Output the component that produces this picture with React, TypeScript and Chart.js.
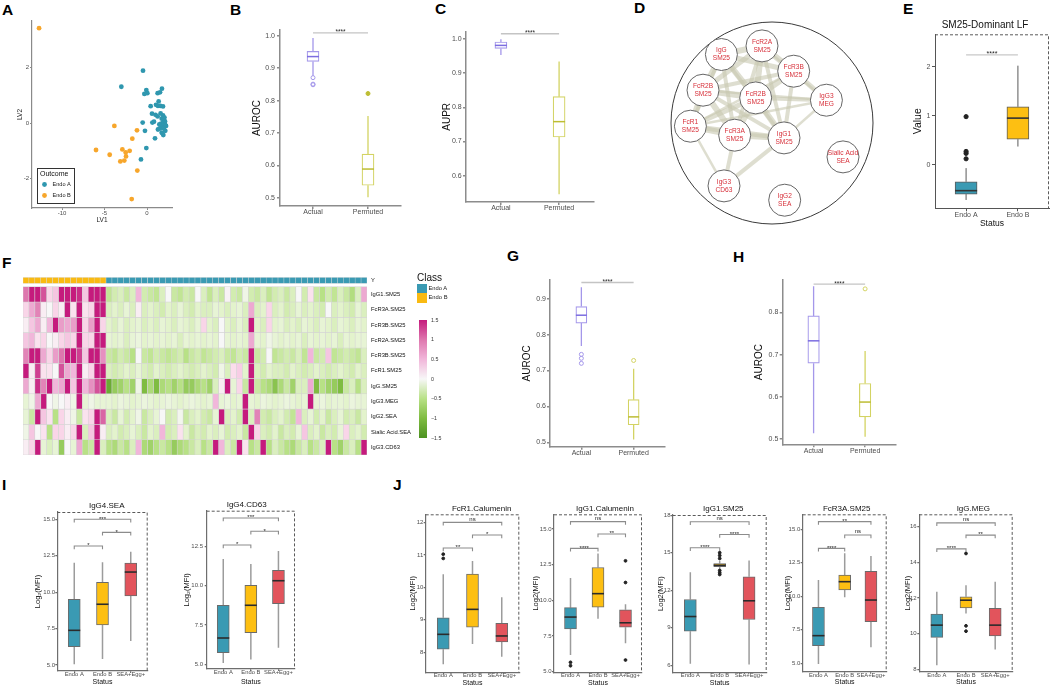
import React, { useEffect, useRef } from 'react';
import { Chart, registerables } from 'chart.js';

Chart.register(...registerables);

const FONT = "'Liberation Sans', Arial, Helvetica, sans-serif";

/* ===================== DATA ===================== */
// Panel A – PLS-DA scores
const aGroups = ['Endo A', 'Endo B'];
const aEndoA_LV1 = [-0.47, -3.02, -0.08, 0.04, -0.31, 1.76, 1.25, 1.53, 1.37, 0.43, 1.06, 1.29, 1.57, 1.88, 0.59, 1.25, 1.88, 1.73, 2.0, 2.12, 1.88, 1.65, 2.12, 1.84, 2.24, 1.69, 1.96, 1.49, 1.29, 1.73, 1.92, 1.8, -0.51, 0.63, 0.82, -0.24, 0.94, -0.08, -0.71, 2.05, 1.6, 1.45, 2.15, 1.0];
const aEndoA_LV2 = [1.89, 1.31, 1.19, 1.08, 1.05, 1.24, 1.08, 1.11, 0.78, 0.61, 0.66, 0.62, 0.62, 0.6, 0.34, 0.24, 0.28, 0.16, 0.1, 0.06, 0.01, -0.02, -0.05, -0.1, -0.1, -0.16, -0.19, -0.2, -0.23, -0.34, -0.43, -0.37, 0.02, 0.02, 0.05, -0.28, -0.55, -0.9, -1.31, 0.2, 0.35, -0.05, -0.28, 0.3];
const aEndoB_LV1 = [-12.7, -3.84, -1.18, -1.73, -6.0, -4.39, -2.9, -2.51, -2.04, -2.47, -3.14, -2.67, -1.14, -1.8];
const aEndoB_LV2 = [3.42, -0.1, -0.26, -0.56, -0.97, -1.14, -0.95, -1.06, -1.0, -1.2, -1.38, -1.35, -1.71, -2.74];
const aXTicks = [-10, -5, 0];
const aYTicks = [-2, 0, 2];

// Panels B, C, G, H – model performance (min, q1, median, q3, max)
const permCats = ['Actual', 'Permuted'];
const bStats = [[0.877, 0.921, 0.936, 0.952, 0.993], [0.502, 0.539, 0.589, 0.635, 0.753]];
const bOutliers = [[0.871, 0.849, 0.851], [0.822]];
const bTicks = [0.5, 0.6, 0.7, 0.8, 0.9, 1.0];
const bSigY = [1.009];
const cStats = [[0.953, 0.972, 0.981, 0.991, 0.999], [0.546, 0.713, 0.758, 0.831, 0.934]];
const cOutliers = [[], []];
const cTicks = [0.6, 0.7, 0.8, 0.9, 1.0];
const cSigY = [1.015];
const gStats = [[0.768, 0.832, 0.854, 0.878, 0.932], [0.508, 0.549, 0.571, 0.619, 0.705]];
const gOutliers = [[0.745, 0.734, 0.72], [0.728]];
const gTicks = [0.5, 0.6, 0.7, 0.8, 0.9];
const gSigY = [0.945];
const hStats = [[0.514, 0.68, 0.733, 0.792, 0.862], [0.506, 0.553, 0.588, 0.632, 0.709]];
const hOutliers = [[], [0.856]];
const hTicks = [0.5, 0.6, 0.7, 0.8];
const hSigY = [0.867];

// Panel D – network
const dNodeLabels = [['IgG', 'SM25'], ['FcR2A', 'SM25'], ['FcR3B', 'SM25'], ['FcR2B', 'SM25'], ['FcR2B', 'SM25'], ['IgG3', 'MEG'], ['FcR1', 'SM25'], ['FcR3A', 'SM25'], ['IgG1', 'SM25'], ['Sialic Acid', 'SEA'], ['IgG3', 'CD63'], ['IgG2', 'SEA']];
const dNodeX = [-0.506, -0.1, 0.217, -0.69, -0.163, 0.544, -0.816, -0.373, 0.12, 0.71, -0.48, 0.127];
const dNodeY = [0.685, 0.771, 0.518, 0.328, 0.251, 0.228, -0.032, -0.122, -0.149, -0.339, -0.629, -0.772];
const dEdgeFrom = [0, 0, 0, 0, 0, 0, 0, 1, 1, 1, 1, 1, 1, 2, 2, 2, 2, 2, 3, 3, 3, 3, 3, 4, 4, 4, 4, 5, 5, 6, 6, 6, 7, 7, 8];
const dEdgeTo = [1, 2, 3, 4, 6, 7, 8, 2, 3, 4, 7, 8, 5, 4, 5, 8, 3, 6, 4, 6, 7, 8, 5, 6, 7, 8, 5, 8, 6, 7, 8, 10, 8, 10, 10];
const dEdgeW = [6, 5, 6, 6, 4, 4, 3.5, 6, 5, 6, 4, 4, 2.5, 6, 5, 4, 4, 2.5, 6, 6, 6, 4, 2.5, 5, 6, 6, 4, 2.5, 2.5, 6, 5, 2.5, 6, 4, 4];

// Panel E
const eCats = ['Endo A', 'Endo B'];
const eStats = [[-0.72, -0.6, -0.53, -0.35, -0.07], [0.37, 0.52, 0.95, 1.18, 2.02]];
const eOutliers = [[0.12, 0.23, 0.27, 0.98], []];
const eTicks = [0, 1, 2];
const eSigY = [2.24];

// Panel F – heatmap
const fRowNames = ['IgG1.SM25', 'FcR3A.SM25', 'FcR3B.SM25', 'FcR2A.SM25', 'FcR3B.SM25', 'FcR1.SM25', 'IgG.SM25', 'IgG3.MEG', 'IgG2.SEA', 'Sialic Acid.SEA', 'IgG3.CD63'];
const fNumEndoB = 14;
const fNumEndoA = 44;
const fRow1 = [1.0, 1.5, 1.5, 1.2, 0.3, 0.4, 1.5, 1.5, 1.5, 1.4, 0.4, 1.5, 1.5, 1.5,
  -0.45, -0.35, -0.3, -0.4, -0.3, 0.5, -0.35, -0.4, -0.45, -0.3, 0.0, -0.4, -0.45, -0.35, -0.4, 0.0, -0.3, -0.45, -0.3, -0.4, 0.05, -0.35, -0.4, -0.1, -0.35, -0.4, -0.3, -0.45, -0.35, -0.3, -0.4, -0.3, 0.0, -0.35, 0.2, -0.4, -0.5, -0.35, -0.45, -0.3, -0.4, -0.55, -0.3, 0.6];
const fRow2 = [0.3, 0.6, 0.9, 0.1, 0.0, 0.3, 0.1, 1.5, 0.2, 1.5, 0.2, 0.3, 1.5, 1.5,
  -0.3, -0.25, -0.3, -0.2, -0.3, 0.1, -0.3, -0.25, -0.3, -0.35, -0.25, -0.3, -0.2, -0.3, -0.35, -0.25, -0.3, -0.3, -0.2, -0.25, -0.3, -0.25, -0.2, -0.3, 0.6, -0.3, -0.25, 0.3, -0.3, -0.25, -0.35, -0.3, -0.2, -0.3, -0.25, -0.3, -0.35, 0.0, -0.3, -0.25, -0.3, -0.35, -0.2, -0.3];
const fRow3 = [0.1, 0.4, 0.6, 0.1, 0.5, 1.5, 0.7, 0.6, 0.7, 1.5, 0.3, 0.7, 1.5, 0.3,
  -0.25, -0.3, -0.2, -0.3, -0.25, -0.2, -0.3, -0.25, -0.3, -0.2, -0.25, -0.3, -0.2, -0.25, -0.3, -0.2, 0.3, -0.25, -0.3, 0.0, -0.25, -0.3, -0.2, -0.3, 1.5, -0.25, -0.3, 0.3, -0.25, -0.2, -0.3, -0.25, -0.3, -0.2, -0.25, -0.3, -0.2, -0.25, -0.3, -0.2, -0.25, -0.3, -0.2, -0.25];
const fRow4 = [0.4, 0.5, 0.2, 0.3, 0.0, 0.1, 0.3, 0.4, 0.3, 1.5, 0.3, 0.3, 1.5, 1.5,
  -0.2, -0.25, -0.2, -0.3, -0.2, -0.15, -0.25, -0.2, -0.25, -0.2, -0.25, -0.2, -0.3, -0.2, -0.25, -0.2, -0.25, -0.2, -0.25, 0.0, -0.2, -0.25, -0.2, -0.25, 0.6, -0.2, -0.25, -0.1, -0.2, -0.25, -0.2, -0.25, -0.2, -0.3, -0.2, -0.25, -0.2, -0.25, -0.2, -0.3, -0.2, -0.25, -0.2, -0.2];
const fRow5 = [0.9, 1.5, 1.5, 0.6, 0.3, 0.7, 1.0, 1.5, 1.5, 1.3, 0.4, 1.5, 1.5, 0.8,
  -0.4, -0.45, -0.35, -0.4, -0.5, 0.0, -0.4, -0.45, -0.35, -0.4, -0.45, -0.4, -0.35, -0.5, -0.4, -0.35, -0.45, -0.4, -0.35, -0.3, -0.4, -0.45, -0.35, -0.4, 1.5, -0.4, -0.35, 0.0, -0.45, -0.4, -0.35, -0.4, -0.3, -0.45, 0.5, -0.4, -0.35, 0.4, -0.45, -0.4, -0.35, -0.4, -0.45, -0.3];
const fRow6 = [1.5, 0.1, 1.3, 0.2, 0.2, 0.0, 1.2, 0.6, 0.5, 1.5, 0.1, 0.3, 1.5, 1.5,
  -0.3, -0.35, -0.3, -0.25, -0.3, -0.2, -0.3, -0.35, -0.25, -0.3, -0.35, -0.3, -0.25, -0.3, -0.35, -0.3, -0.25, -0.3, -0.35, -0.1, -0.3, 0.25, 0.35, -0.25, 1.5, -0.3, -0.35, -0.25, -0.3, -0.3, -0.35, -0.25, -0.3, -0.35, -0.3, -0.25, -0.3, -0.35, -0.3, -0.25, -0.3, -0.35, -0.25, -0.3];
const fRow7 = [0.6, 0.1, 1.4, 0.9, 1.5, 0.5, 0.6, 1.5, 0.4, 1.5, 0.5, 0.8, 1.2, 1.5,
  -1.2, -0.8, -0.7, -0.5, -0.7, -0.1, -1.0, -0.6, -1.0, -0.6, -0.5, -0.7, -0.5, -0.8, -0.8, -0.6, -0.5, -0.7, -0.3, 0.1, 1.5, -0.2, 0.3, -0.4, 1.5, -0.4, -0.5, -0.6, -0.9, -0.6, -0.4, -0.7, -0.3, -0.3, 0.6, -1.0, -0.5, -0.7, -0.8, -1.0, -0.4, -0.3, -0.5, -0.3];
const fRow8 = [-0.2, -0.1, 0.6, 1.5, 0.0, -0.1, 0.0, 0.1, -0.1, 1.5, -0.2, -0.1, -0.2, -0.2,
  -0.2, -0.25, -0.15, -0.2, -0.25, -0.2, -0.15, -0.2, -0.25, -0.2, -0.15, -0.2, -0.25, -0.2, -0.15, -0.2, -0.25, -0.2, 0.5, -0.2, -0.15, -0.25, -0.2, 1.5, -0.2, -0.25, -0.15, -0.2, -0.25, -0.2, -0.15, -0.2, -0.25, -0.2, 1.5, -0.2, -0.15, -0.25, -0.2, -0.2, -0.25, -0.15, -0.2, -0.2];
const fRow9 = [-0.2, -0.4, 1.5, 0.4, 0.2, -0.5, 0.3, 0.1, -0.1, -0.4, 0.2, 0.3, 1.5, 1.1,
  -0.3, -0.4, -0.2, -0.35, -0.25, -0.1, -0.4, -0.3, -0.2, 0.0, -0.35, -0.3, -0.05, -0.4, -0.3, -0.25, -0.35, -0.4, -0.2, 1.5, -0.3, -0.25, -0.35, 1.5, -0.3, 0.9, -0.35, -0.4, -0.3, -0.25, -0.35, -0.45, 0.5, -0.3, -0.2, -0.35, -0.25, -0.4, -0.3, -0.2, -0.35, -0.3, -0.4, -0.25];
const fRow10 = [-0.1, 0.4, 0.0, 0.2, -0.5, 0.3, 0.3, 0.1, 0.3, 1.5, -0.3, 0.4, 1.5, 0.1,
  -0.3, -0.25, -0.35, -0.3, -0.2, -0.3, -0.4, -0.25, -0.3, 0.5, -0.35, -0.3, 0.2, -0.25, -0.4, -0.3, -0.35, -0.25, -0.3, -0.2, -0.35, -0.3, -0.25, -0.4, 1.5, 0.3, -0.3, -0.35, -0.25, -0.4, -0.3, -0.35, -0.2, 0.4, -0.3, -0.25, -0.4, -0.3, -0.35, -0.2, 0.3, -0.3, -0.25, -0.35];
const fRow11 = [0.1, 0.3, 1.5, -0.2, -0.3, -0.2, -0.8, 0.0, -0.2, 0.6, -0.5, -0.4, 1.5, -0.3,
  -0.5, -0.6, -0.4, -0.5, -0.3, 0.5, -0.6, -0.7, -0.5, -0.4, -0.5, -0.8, -0.6, -0.5, -0.4, -0.3, -0.5, -0.4, 1.5, 0.5, -0.3, -0.4, 1.5, 0.2, -0.5, -0.4, 1.5, -0.5, -0.3, -0.4, -0.5, -0.6, -0.4, -0.3, -0.5, -0.4, -0.3, 1.5, -0.5, -0.7, -0.4, -0.3, -0.5, 1.5];
const fValues = [fRow1, fRow2, fRow3, fRow4, fRow5, fRow6, fRow7, fRow8, fRow9, fRow10, fRow11];
const fColorTicks = [1.5, 1, 0.5, 0, -0.5, -1, -1.5];

// Panels I and J – Log2(MFI) by status (min, q1, median, q3, max)
const statusCats = ['Endo A', 'Endo B', 'SEA+Egg+'];
const sigPairs = [[0, 1], [1, 2], [0, 2]];
const iSeaStats = [[5.05, 6.26, 7.38, 9.51, 12.02], [5.41, 7.75, 9.17, 10.68, 12.06], [6.65, 9.74, 11.38, 12.0, 12.78]];
const iSeaSigY = [13.17, 14.1, 15.0];
const iSeaSigLab = ['*', '*', '***'];
const iCd63Stats = [[5.08, 5.74, 6.67, 8.75, 11.69], [5.31, 7.01, 8.75, 10.02, 11.37], [6.05, 8.85, 10.31, 10.97, 12.2]];
const iCd63SigY = [12.58, 13.45, 14.3];
const iCd63SigLab = ['*', '*', '***'];
const jFcr1CalStats = [[7.63, 8.09, 8.55, 9.06, 10.4], [8.25, 8.77, 9.32, 10.41, 10.81], [7.86, 8.32, 8.5, 8.89, 9.69]];
const jFcr1CalOut = [[11.02, 10.89], [], []];
const jFcr1CalSigY = [11.21, 11.61, 12.0];
const jFcr1CalSigLab = ['**', '*', 'ns'];
const jIgg1CalStats = [[6.18, 8.0, 8.83, 9.49, 11.57], [8.71, 9.53, 10.47, 12.3, 13.29], [6.99, 8.12, 8.43, 9.34, 9.72]];
const jIgg1CalOut = [[5.66, 5.42], [], [12.77, 11.25, 5.82]];
const jIgg1CalSigY = [13.64, 14.65, 15.52];
const jIgg1CalSigLab = ['****', '**', 'ns'];
const jIgg1SmStats = [[6.12, 8.73, 9.9, 11.26, 13.45], [13.7, 13.88, 14.0, 14.14, 14.35], [6.06, 9.66, 11.16, 13.08, 14.38]];
const jIgg1SmOut = [[], [15.0, 14.78, 14.54, 13.58, 13.4, 13.26], []];
const jIgg1SmSigY = [15.4, 16.46, 17.48];
const jIgg1SmSigLab = ['****', '****', 'ns'];
const jFcr3aStats = [[4.95, 6.31, 7.06, 9.18, 11.22], [9.93, 10.47, 11.09, 11.59, 13.21], [6.19, 8.1, 9.72, 11.86, 13.0]];
const jFcr3aSigY = [13.58, 14.57, 15.57];
const jFcr3aSigLab = ['****', 'ns', '**'];
const jIggMegStats = [[8.23, 9.79, 10.48, 11.1, 12.35], [11.13, 11.45, 11.88, 12.07, 12.72], [9.11, 9.88, 10.48, 11.43, 12.91]];
const jIggMegOut = [[], [14.5, 10.44, 10.14], []];
const jIggMegSigY = [14.76, 15.53, 16.22];
const jIggMegSigLab = ['****', '**', 'ns'];
const none3 = [[], [], []];

/* ===================== STYLE ===================== */
const TEAL = '#3A9AB3';
const GOLD = '#FDBF12';
const RED = '#E2545C';
const PURPLE = '#A497EA';
const PURPLE_D = '#7C6DE0';
const OLIVE = '#D3D363';
const OLIVE_D = '#BDBD33';
const PT_TEAL = '#2F97AF';
const PT_ORANGE = '#F7A62B';

const fStops: [number, string][] = [[-1.5, '#4D9221'], [-1, '#7FBC41'], [-0.5, '#B8E186'], [-0.25, '#E3F3CC'], [0, '#F7F7F7'], [0.25, '#FBDDEC'], [0.5, '#F1B6DA'], [1, '#DE77AE'], [1.5, '#C51B7D']];
function hex(h: string) { return [parseInt(h.slice(1, 3), 16), parseInt(h.slice(3, 5), 16), parseInt(h.slice(5, 7), 16)]; }
function piyg(v: number) {
  const x = Math.max(-1.5, Math.min(1.5, v));
  for (let i = 0; i < fStops.length - 1; i++) {
    const [a, ca] = fStops[i];
    const [b, cb] = fStops[i + 1];
    if (x >= a && x <= b) {
      const f = (x - a) / (b - a);
      const A = hex(ca), B = hex(cb);
      return `rgb(${Math.round(A[0] + (B[0] - A[0]) * f)},${Math.round(A[1] + (B[1] - A[1]) * f)},${Math.round(A[2] + (B[2] - A[2]) * f)})`;
    }
  }
  return '#F7F7F7';
}

/* ===================== BOX PANEL ===================== */
function BoxPanel({ c }: { c: any }) {
  const ref = useRef<HTMLCanvasElement | null>(null);
  const [l, t, r, b] = c.area;
  const tl = c.tl ?? 3;
  const yLh = c.yTitleSize * 1.2;
  const left = Math.floor(c.yTitleX - yLh / 2 - 1);
  const top = Math.floor(Math.min(t - 8, c.title ? c.titleY - c.titleSize * 0.8 : t - 8));
  const xLh = (c.xTitleSize || 8) * 1.2;
  const bottomF = c.xTitle ? c.xTitleY + xLh / 2 + 1 : c.xLabelTop + c.xTickSize * 1.3 + 1;
  const width = Math.ceil(r + 4 - left);
  const height = Math.ceil(bottomF - top);

  useEffect(() => {
    const n = c.cats.length;
    const yAxisW = l - left;
    const xAxisH = bottomF - b;
    const brackets = c.sigY.map((y: number, k: number) => ({ a: c.pairs[k][0], b: c.pairs[k][1], y, label: c.sigLab[k] }));
    const plugin = {
      id: 'boxExtras',
      beforeDatasetsDraw(chart: any) {
        const { ctx, scales } = chart;
        const xs = scales.x, ys = scales.y;
        ctx.save();
        c.stats.forEach((s: number[], i: number) => {
          const px = xs.getPixelForValue(i + 1);
          ctx.strokeStyle = c.whisker[i];
          ctx.lineWidth = c.whiskerW;
          ctx.beginPath();
          ctx.moveTo(px, ys.getPixelForValue(s[4]));
          ctx.lineTo(px, ys.getPixelForValue(s[3]));
          ctx.moveTo(px, ys.getPixelForValue(s[1]));
          ctx.lineTo(px, ys.getPixelForValue(s[0]));
          ctx.stroke();
        });
        ctx.restore();
      },
      afterDatasetsDraw(chart: any) {
        const { ctx, scales, chartArea } = chart;
        const xs = scales.x, ys = scales.y;
        ctx.save();
        c.stats.forEach((s: number[], i: number) => {
          const px = xs.getPixelForValue(i + 1);
          const py = ys.getPixelForValue(s[2]);
          ctx.strokeStyle = c.median[i];
          ctx.lineWidth = c.medianW;
          ctx.beginPath();
          ctx.moveTo(px - c.boxW / 2, py);
          ctx.lineTo(px + c.boxW / 2, py);
          ctx.stroke();
        });
        brackets.forEach((br: any) => {
          const x1 = xs.getPixelForValue(br.a + 1), x2 = xs.getPixelForValue(br.b + 1);
          const y = ys.getPixelForValue(br.y);
          ctx.strokeStyle = c.bracketColor;
          ctx.lineWidth = c.bracketW;
          ctx.beginPath();
          if (c.bracketTicks) {
            ctx.moveTo(x1, y + 3.2); ctx.lineTo(x1, y); ctx.lineTo(x2, y); ctx.lineTo(x2, y + 3.2);
          } else {
            ctx.moveTo(x1, y); ctx.lineTo(x2, y);
          }
          ctx.stroke();
          ctx.fillStyle = '#222';
          ctx.font = `${c.starSize}px ${FONT}`;
          ctx.textAlign = 'center';
          ctx.textBaseline = 'alphabetic';
          ctx.fillText(br.label, (x1 + x2) / 2, y - (br.label === 'ns' ? 1.6 : 0.2) + (br.label === 'ns' ? 0 : c.starSize * 0.25));
        });
        if (c.dashed) {
          ctx.setLineDash([3, 2]);
          ctx.strokeStyle = '#5a5a5a';
          ctx.lineWidth = 1;
          ctx.beginPath();
          ctx.moveTo(chartArea.left, chartArea.top + 0.5);
          ctx.lineTo(chartArea.right - 0.5, chartArea.top + 0.5);
          ctx.lineTo(chartArea.right - 0.5, chartArea.bottom);
          ctx.stroke();
          ctx.setLineDash([]);
        }
        if (c.title) {
          ctx.fillStyle = '#111';
          ctx.font = `${c.titleSize}px ${FONT}`;
          ctx.textAlign = 'center';
          ctx.textBaseline = 'middle';
          ctx.fillText(c.title, c.titleX - left, c.titleY - top);
        }
        ctx.restore();
      },
    };
    const outData: any[] = [];
    const outFill: string[] = [];
    const outStroke: string[] = [];
    c.outliers.forEach((o: number[], i: number) => o.forEach((v) => {
      outData.push({ x: i + 1, y: v });
      outFill.push(c.outFill[i]);
      outStroke.push(c.outStroke[i]);
    }));
    const tickFont = { family: FONT, size: c.tickSize };
    const chart = new Chart(ref.current as HTMLCanvasElement, {
      type: 'bar',
      data: {
        datasets: [
          {
            type: 'bar',
            data: c.stats.map((s: number[], i: number) => ({ x: i + 1, y: [s[1], s[3]] })),
            backgroundColor: c.fill,
            borderColor: c.stroke,
            borderWidth: c.strokeW,
            borderSkipped: false,
            barThickness: c.boxW,
            order: 2,
          },
          {
            type: 'scatter',
            data: outData,
            pointBackgroundColor: outFill,
            pointBorderColor: outStroke,
            pointBorderWidth: 1,
            pointRadius: c.outR,
            order: 1,
          },
        ],
      },
      options: {
        animation: false,
        responsive: false,
        maintainAspectRatio: false,
        events: [],
        layout: { autoPadding: false, padding: { left: 0, top: t - top, right: width - (r - left), bottom: height - (bottomF - top) } },
        plugins: { legend: { display: false }, tooltip: { enabled: false } },
        scales: {
          x: {
            type: 'linear', min: 0.4, max: n + 0.6, offset: false,
            afterBuildTicks: (s: any) => { s.ticks = c.cats.map((_: string, i: number) => ({ value: i + 1 })); },
            afterFit: (s: any) => { s.height = xAxisH; },
            ticks: {
              callback: (v: any) => c.cats[Math.round(+v) - 1] ?? '',
              font: { family: FONT, size: c.xTickSize }, color: '#4d4d4d',
              padding: c.xLabelTop - 0.23 * c.xTickSize - b - tl, maxRotation: 0, autoSkip: false,
            },
            grid: { drawOnChartArea: false, offset: false, tickLength: tl, color: c.axisColor, lineWidth: c.axisW },
            border: { display: true, color: c.axisColor, width: c.axisW },
            title: c.xTitle
              ? { display: true, text: c.xTitle, font: { family: FONT, size: c.xTitleSize }, color: '#111', padding: { top: 0, bottom: 1 } }
              : { display: false },
          },
          y: {
            type: 'linear', min: c.yMin, max: c.yMax, beginAtZero: false,
            afterBuildTicks: (s: any) => { s.ticks = c.yTicks.map((v: number) => ({ value: v })); },
            afterFit: (s: any) => { s.width = yAxisW; },
            ticks: {
              callback: (v: any) => (+v).toFixed(c.yDec),
              font: tickFont, color: '#4d4d4d',
              padding: Math.max(0, l - tl - c.yLabelRight),
            },
            grid: { drawOnChartArea: false, tickLength: tl, color: c.axisColor, lineWidth: c.axisW },
            border: { display: true, color: c.axisColor, width: c.axisW },
            title: {
              display: true, text: c.yTitle, font: { family: FONT, size: c.yTitleSize, lineHeight: 1.2 }, color: '#111',
              padding: { top: c.yTitleX - left - yLh / 2, bottom: 0 },
            },
          },
        },
      },
      plugins: [plugin],
    } as any);
    return () => chart.destroy();
  }, []);
  return <canvas ref={ref} width={width} height={height} style={{ position: 'absolute', left, top, width, height }} />;
}

/* ===================== PANEL A ===================== */
function PanelA() {
  const ref = useRef<HTMLCanvasElement | null>(null);
  const left = 10, top = 13, width = 166, height = 212;
  const area = [32, 21, 172, 208];
  useEffect(() => {
    const legendPlugin = {
      id: 'aLegend',
      afterDraw(chart: any) {
        const ctx = chart.ctx;
        ctx.save();
        const ox = -left, oy = -top;
        ctx.strokeStyle = '#333';
        ctx.lineWidth = 1;
        ctx.strokeRect(37.5 + ox, 168.5 + oy, 37, 35);
        ctx.fillStyle = '#111';
        ctx.font = `7px ${FONT}`;
        ctx.textBaseline = 'middle';
        ctx.textAlign = 'left';
        ctx.fillText('Outcome', 40 + ox, 174 + oy);
        const cols = [PT_TEAL, PT_ORANGE];
        aGroups.forEach((g, i) => {
          const cy = 184.5 + i * 11 + oy;
          ctx.fillStyle = cols[i];
          ctx.beginPath();
          ctx.arc(44.5 + ox, cy, 2.4, 0, Math.PI * 2);
          ctx.fill();
          ctx.fillStyle = '#222';
          ctx.font = `5.6px ${FONT}`;
          ctx.fillText(g, 52.5 + ox, cy);
        });
        ctx.restore();
      },
    };
    const axis = '#8a8a8a';
    const chart = new Chart(ref.current as HTMLCanvasElement, {
      type: 'scatter',
      data: {
        datasets: [
          { label: aGroups[0], data: aEndoA_LV1.map((x, i) => ({ x, y: aEndoA_LV2[i] })), pointBackgroundColor: PT_TEAL, pointBorderWidth: 0, pointRadius: 2.4 },
          { label: aGroups[1], data: aEndoB_LV1.map((x, i) => ({ x, y: aEndoB_LV2[i] })), pointBackgroundColor: PT_ORANGE, pointBorderWidth: 0, pointRadius: 2.4 },
        ],
      },
      options: {
        animation: false, responsive: false, maintainAspectRatio: false, events: [],
        layout: { autoPadding: false, padding: { left: 0, top: area[1] - top, right: width - (area[2] - left), bottom: height - (224.9 - top) } },
        plugins: { legend: { display: false }, tooltip: { enabled: false } },
        scales: {
          x: {
            type: 'linear', min: -13.53, max: 2.94,
            afterBuildTicks: (s: any) => { s.ticks = aXTicks.map((v) => ({ value: v })); },
            afterFit: (s: any) => { s.height = 224.9 - area[3]; },
            ticks: { font: { family: FONT, size: 6 }, color: '#4d4d4d', padding: 0, maxRotation: 0 },
            grid: { drawOnChartArea: false, tickLength: 2, color: axis, lineWidth: 1 },
            border: { display: true, color: axis, width: 1.2 },
            title: { display: true, text: 'LV1', font: { family: FONT, size: 6.5 }, color: '#222', padding: { top: 0, bottom: 1 } },
          },
          y: {
            type: 'linear', min: -3.06, max: 3.68,
            afterBuildTicks: (s: any) => { s.ticks = aYTicks.map((v) => ({ value: v })); },
            afterFit: (s: any) => { s.width = area[0] - left; },
            ticks: { font: { family: FONT, size: 6 }, color: '#4d4d4d', padding: 1 },
            grid: { drawOnChartArea: false, tickLength: 2, color: axis, lineWidth: 1 },
            border: { display: true, color: axis, width: 1.2 },
            title: { display: true, text: 'LV2', font: { family: FONT, size: 6.5 }, color: '#222', padding: { top: 6, bottom: 0 } },
          },
        },
      },
      plugins: [legendPlugin],
    } as any);
    return () => chart.destroy();
  }, []);
  return <canvas ref={ref} width={width} height={height} style={{ position: 'absolute', left, top, width, height }} />;
}

/* ===================== PANEL D ===================== */
function PanelD() {
  const ref = useRef<HTMLCanvasElement | null>(null);
  const left = 662, top = 13, size = 220;
  useEffect(() => {
    const labelPlugin = {
      id: 'dLabels',
      afterDatasetsDraw(chart: any) {
        const { ctx, scales } = chart;
        ctx.save();
        ctx.fillStyle = '#D7303A';
        ctx.font = `6.6px ${FONT}`;
        ctx.textAlign = 'center';
        ctx.textBaseline = 'middle';
        dNodeLabels.forEach((lab, i) => {
          const px = scales.x.getPixelForValue(dNodeX[i]);
          const py = scales.y.getPixelForValue(dNodeY[i]);
          ctx.fillText(lab[0], px, py - 3.9);
          ctx.fillText(lab[1], px, py + 3.9);
        });
        ctx.restore();
      },
    };
    const edges = dEdgeFrom.map((f, k) => ({
      showLine: true,
      data: [{ x: dNodeX[f], y: dNodeY[f] }, { x: dNodeX[dEdgeTo[k]], y: dNodeY[dEdgeTo[k]] }],
      borderColor: 'rgba(200,200,176,0.6)',
      borderWidth: dEdgeW[k],
      pointRadius: 0,
      order: 2,
      clip: false,
    }));
    const hidden = {
      type: 'linear', min: -1.1, max: 1.1,
      ticks: { display: false }, grid: { display: false, drawTicks: false }, border: { display: false },
      afterFit: (s: any) => { if (s.isHorizontal()) s.height = 0; else s.width = 0; },
    };
    const chart = new Chart(ref.current as HTMLCanvasElement, {
      type: 'scatter',
      data: {
        datasets: [
          { data: [{ x: 0, y: 0 }], pointRadius: 101, pointBackgroundColor: 'rgba(0,0,0,0)', pointBorderColor: '#3a3a3a', pointBorderWidth: 1, order: 3, clip: false },
          ...edges,
          { data: dNodeX.map((x, i) => ({ x, y: dNodeY[i] })), pointRadius: 16, pointBackgroundColor: '#ffffff', pointBorderColor: '#666666', pointBorderWidth: 1, order: 1, clip: false },
        ],
      },
      options: {
        animation: false, responsive: false, maintainAspectRatio: false, events: [],
        layout: { autoPadding: false, padding: 0 },
        plugins: { legend: { display: false }, tooltip: { enabled: false } },
        scales: { x: { ...hidden }, y: { ...hidden } },
      },
      plugins: [labelPlugin],
    } as any);
    return () => chart.destroy();
  }, []);
  return <canvas ref={ref} width={size} height={size} style={{ position: 'absolute', left, top, width: size, height: size }} />;
}

/* ===================== PANEL F ===================== */
function PanelF() {
  const ref = useRef<HTMLCanvasElement | null>(null);
  const left = 23, top = 269, chartW = 344, axisW = 62;
  const width = chartW + axisW, height = 194;
  useEffect(() => {
    const nRows = fRowNames.length;
    const annLo = nRows + 0.222, annHi = nRows + 0.614;
    const classes: string[] = [];
    for (let i = 0; i < fNumEndoB; i++) classes.push('Endo B');
    for (let i = 0; i < fNumEndoA; i++) classes.push('Endo A');
    const labels = classes.map((_, j) => 'S' + (j + 1));
    const datasets: any[] = fValues.map((row, r) => ({
      type: 'bar',
      label: fRowNames[r],
      data: row.map(() => [nRows - 1 - r, nRows - r]),
      backgroundColor: row.map(piyg),
      borderColor: '#d4d4d4',
      borderWidth: 0.6,
      borderSkipped: false,
      grouped: false,
      barPercentage: 1,
      categoryPercentage: 1,
    }));
    datasets.push({
      type: 'bar',
      label: 'Y',
      data: classes.map(() => [annLo, annHi]),
      backgroundColor: classes.map((cl) => (cl === 'Endo A' ? TEAL : '#F9BA12')),
      borderColor: '#dcdcdc',
      borderWidth: 0.5,
      borderSkipped: false,
      grouped: false,
      barPercentage: 1,
      categoryPercentage: 1,
    });
    const tickVals = [(annLo + annHi) / 2, ...fRowNames.map((_, r) => nRows - 0.5 - r)];
    const tickLabels = ['Y', ...fRowNames];
    const chart = new Chart(ref.current as HTMLCanvasElement, {
      type: 'bar',
      data: { labels, datasets },
      options: {
        animation: false, responsive: false, maintainAspectRatio: false, events: [],
        layout: { autoPadding: false, padding: { left: 0, top: 8.3, right: 0, bottom: 8 } },
        plugins: { legend: { display: false }, tooltip: { enabled: false } },
        scales: {
          x: { type: 'category', display: false, offset: true },
          y: {
            type: 'linear', position: 'right', min: 0, max: annHi, beginAtZero: false,
            afterBuildTicks: (s: any) => { s.ticks = tickVals.map((v) => ({ value: v })); },
            afterFit: (s: any) => { s.width = axisW; },
            ticks: { callback: (_v: any, i: number) => tickLabels[i], font: { family: FONT, size: 5.8 }, color: '#111', padding: 4, autoSkip: false },
            grid: { display: false, drawTicks: false },
            border: { display: false },
          },
        },
      },
    } as any);
    return () => chart.destroy();
  }, []);
  const cbTop = 320, cbH = 118.3;
  return (
    <>
      <canvas ref={ref} width={width} height={height} style={{ position: 'absolute', left, top, width, height }} />
      <div style={{ position: 'absolute', left: 417, top: 271.5, fontSize: 10, lineHeight: '12px', color: '#111' }}>Class</div>
      <div style={{ position: 'absolute', left: 416.7, top: 284, width: 10, height: 9.3, background: TEAL }} />
      <div style={{ position: 'absolute', left: 416.7, top: 293.3, width: 10, height: 9.3, background: '#F9BA12' }} />
      <div style={{ position: 'absolute', left: 428.5, top: 284, fontSize: 5.8, lineHeight: '9.3px', color: '#222' }}>Endo A</div>
      <div style={{ position: 'absolute', left: 428.5, top: 293.3, fontSize: 5.8, lineHeight: '9.3px', color: '#222' }}>Endo B</div>
      <div style={{ position: 'absolute', left: 419, top: cbTop, width: 7.7, height: cbH, background: 'linear-gradient(to bottom, #C51B7D 0%, #DE77AE 16.7%, #F1B6DA 33.3%, #F7F7F7 50%, #B8E186 66.7%, #7FBC41 83.3%, #4D9221 100%)' }} />
      {fColorTicks.map((v) => (
        <div key={v} style={{ position: 'absolute', left: 431, top: cbTop + ((1.5 - v) / 3) * cbH - 3.5, fontSize: 5.3, lineHeight: '7px', color: '#333' }}>
          {v < 0 ? '\u2212' + Math.abs(v) : String(v)}
        </div>
      ))}
    </>
  );
}

/* ===================== CONFIGS ===================== */
const perfBase = {
  cats: permCats, pairs: [[0, 1]], sigLab: ['****'], yDec: 1, yTitleSize: 10, tickSize: 7, xTickSize: 7, tl: 3,
  fill: ['#ffffff', '#ffffff'], stroke: [PURPLE, OLIVE], median: [PURPLE_D, OLIVE_D], whisker: [PURPLE, OLIVE],
  whiskerW: 1.3, strokeW: 1.2, medianW: 1.5, outR: 2, outFill: ['rgba(255,255,255,0)', 'rgba(255,255,255,0)'], outStroke: [PURPLE, OLIVE],
  bracketTicks: false, bracketColor: '#c4c4c4', bracketW: 1.3, starSize: 6.5, dashed: false, axisColor: '#8c8c8c', axisW: 1.5,
};
const cfgB = { ...perfBase, area: [280, 30, 401, 206], stats: bStats, outliers: bOutliers, yMin: 0.475, yMax: 1.018, yTicks: bTicks, sigY: bSigY, yTitle: 'AUROC', yTitleX: 257, yLabelRight: 275, xLabelTop: 209, boxW: 12, outFill: ['rgba(255,255,255,0)', OLIVE_D], outStroke: [PURPLE, OLIVE_D] };
const cfgC = { ...perfBase, area: [466, 31.7, 594, 202], stats: cStats, outliers: cOutliers, yMin: 0.523, yMax: 1.021, yTicks: cTicks, sigY: cSigY, yTitle: 'AUPR', yTitleX: 447.3, yLabelRight: 461.7, xLabelTop: 205, boxW: 12 };
const cfgG = { ...perfBase, area: [550, 280, 665, 446.7], stats: gStats, outliers: gOutliers, yMin: 0.488, yMax: 0.952, yTicks: gTicks, sigY: gSigY, yTitle: 'AUROC', yTitleX: 527.3, yLabelRight: 546, xLabelTop: 450.5, boxW: 11 };
const cfgH = { ...perfBase, area: [782.7, 280, 896, 444.3], stats: hStats, outliers: hOutliers, yMin: 0.488, yMax: 0.877, yTicks: hTicks, sigY: hSigY, yTitle: 'AUROC', yTitleX: 759.7, yLabelRight: 778.3, xLabelTop: 448.3, boxW: 11.5 };
const cfgE = {
  area: [935, 34.3, 1049, 208.3], cats: eCats, stats: eStats, outliers: eOutliers, yMin: -0.89, yMax: 2.66, yTicks: eTicks, yDec: 0,
  yTitle: 'Value', yTitleX: 917.7, yTitleSize: 10.5, yLabelRight: 930.5, tickSize: 7, xTickSize: 7, xLabelTop: 212.3, tl: 3,
  xTitle: 'Status', xTitleY: 224, xTitleSize: 8.5, title: 'SM25-Dominant LF', titleX: 985, titleY: 25, titleSize: 10,
  boxW: 22, fill: [TEAL, GOLD], stroke: ['#5a5a5a', '#5a5a5a'], median: ['#333333', '#333333'], whisker: ['#5a5a5a', '#5a5a5a'],
  whiskerW: 1, strokeW: 1, medianW: 1.6, outR: 2.1, outFill: ['#222222', '#222222'], outStroke: ['#222222', '#222222'],
  pairs: [[0, 1]], sigY: eSigY, sigLab: ['****'], bracketTicks: false, bracketColor: '#c8c8c8', bracketW: 1.2, starSize: 7,
  dashed: true, axisColor: '#555555', axisW: 1,
};
const statusBase = {
  cats: statusCats, pairs: sigPairs, yTitleSize: 7.5, tickSize: 6, xTickSize: 5.8, tl: 2, xTitle: 'Status', xTitleSize: 7, titleSize: 8,
  boxW: 12, fill: [TEAL, GOLD, RED], stroke: ['#6b6b6b', '#6b6b6b', '#6b6b6b'], median: ['#2b2b2b', '#2b2b2b', '#2b2b2b'],
  whisker: ['#9c9c9c', '#9c9c9c', '#9c9c9c'], whiskerW: 1.5, strokeW: 1, medianW: 1.6, outR: 1.4,
  outFill: ['#222222', '#222222', '#222222'], outStroke: ['#222222', '#222222', '#222222'],
  bracketTicks: true, bracketColor: '#8c8c8c', bracketW: 1.1, starSize: 6, dashed: true, axisColor: '#6e6e6e', axisW: 1.2,
};
const cfgISea = { ...statusBase, area: [57.3, 512, 147.7, 671], stats: iSeaStats, outliers: none3, yMin: 4.59, yMax: 15.5, yTicks: [5, 7.5, 10, 12.5, 15], yDec: 1, sigY: iSeaSigY, sigLab: iSeaSigLab, yTitle: 'Log\u2082(MFI)', yTitleX: 38.3, yLabelRight: 55, xLabelTop: 672.5, xTitleY: 682, title: 'IgG4.SEA', titleX: 106.7, titleY: 506 };
const cfgICd63 = { ...statusBase, area: [206.7, 510.7, 295, 669], stats: iCd63Stats, outliers: none3, yMin: 4.7, yMax: 14.76, yTicks: [5, 7.5, 10, 12.5], yDec: 1, sigY: iCd63SigY, sigLab: iCd63SigLab, yTitle: 'Log\u2082(MFI)', yTitleX: 186.7, yLabelRight: 203, xLabelTop: 670.7, xTitleY: 681.7, title: 'IgG4.CD63', titleX: 246.7, titleY: 504.5 };
const cfgJFcr1 = { ...statusBase, area: [425.7, 514.3, 519.3, 672.3], stats: jFcr1CalStats, outliers: jFcr1CalOut, yMin: 7.38, yMax: 12.25, yTicks: [8, 9, 10, 11, 12], yDec: 0, sigY: jFcr1CalSigY, sigLab: jFcr1CalSigLab, yTitle: 'Log2(MFI)', yTitleX: 412.5, yLabelRight: 423.3, xLabelTop: 673.5, xTitleY: 683.2, title: 'FcR1.Calumenin', titleX: 481.7, titleY: 508.8 };
const cfgJIgg1Cal = { ...statusBase, area: [554, 514.3, 642, 672.3], stats: jIgg1CalStats, outliers: jIgg1CalOut, yMin: 4.96, yMax: 16.03, yTicks: [5, 7.5, 10, 12.5, 15], yDec: 1, sigY: jIgg1CalSigY, sigLab: jIgg1CalSigLab, yTitle: 'Log2(MFI)', yTitleX: 536.2, yLabelRight: 551.5, xLabelTop: 673.5, xTitleY: 683.2, title: 'IgG1.Calumenin', titleX: 605, titleY: 508.8 };
const cfgJIgg1Sm = { ...statusBase, area: [672.7, 515, 766.7, 672.3], stats: jIgg1SmStats, outliers: jIgg1SmOut, yMin: 5.44, yMax: 18.02, yTicks: [6, 9, 12, 15, 18], yDec: 0, sigY: jIgg1SmSigY, sigLab: jIgg1SmSigLab, yTitle: 'Log2(MFI)', yTitleX: 660.8, yLabelRight: 670.5, xLabelTop: 673.3, xTitleY: 683.5, title: 'IgG1.SM25', titleX: 723.3, titleY: 509 };
const cfgJFcr3a = { ...statusBase, area: [802.7, 514.3, 886.7, 671.7], stats: jFcr3aStats, outliers: none3, yMin: 4.37, yMax: 16.12, yTicks: [5, 7.5, 10, 12.5, 15], yDec: 1, sigY: jFcr3aSigY, sigLab: jFcr3aSigLab, yTitle: 'Log2(MFI)', yTitleX: 787.5, yLabelRight: 800.3, xLabelTop: 673.3, xTitleY: 682.5, title: 'FcR3A.SM25', titleX: 846.7, titleY: 508.3 };
const cfgJIggMeg = { ...statusBase, area: [919.3, 514.3, 1012.7, 672], stats: jIggMegStats, outliers: jIggMegOut, yMin: 7.85, yMax: 16.7, yTicks: [8, 10, 12, 14, 16], yDec: 0, sigY: jIggMegSigY, sigLab: jIggMegSigLab, yTitle: 'Log2(MFI)', yTitleX: 907.5, yLabelRight: 916.7, xLabelTop: 673.3, xTitleY: 682.5, title: 'IgG.MEG', titleX: 973.3, titleY: 508.3 };

/* ===================== APP ===================== */
const letters: [string, number, number][] = [
  ['A', 2, 2], ['B', 230, 2], ['C', 435, 1], ['D', 634, 0], ['E', 903, 1],
  ['F', 2, 255], ['G', 507, 248], ['H', 733, 249], ['I', 2, 477], ['J', 393, 477],
];

export default function App() {
  return (
    <div style={{ position: 'fixed', left: 0, top: 0, width: 1050, height: 686, background: '#ffffff', overflow: 'hidden', fontFamily: FONT }}>
      {letters.map(([t, x, y]) => (
        <div key={t} style={{ position: 'absolute', left: x, top: y, fontSize: 15.5, lineHeight: '15.5px', fontWeight: 'bold', color: '#000' }}>{t}</div>
      ))}
      <PanelA />
      <BoxPanel c={cfgB} />
      <BoxPanel c={cfgC} />
      <PanelD />
      <BoxPanel c={cfgE} />
      <PanelF />
      <BoxPanel c={cfgG} />
      <BoxPanel c={cfgH} />
      <BoxPanel c={cfgISea} />
      <BoxPanel c={cfgICd63} />
      <BoxPanel c={cfgJFcr1} />
      <BoxPanel c={cfgJIgg1Cal} />
      <BoxPanel c={cfgJIgg1Sm} />
      <BoxPanel c={cfgJFcr3a} />
      <BoxPanel c={cfgJIggMeg} />
    </div>
  );
}
